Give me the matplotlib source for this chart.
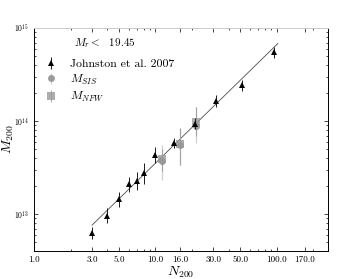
import matplotlib
matplotlib.use("Agg")
import matplotlib.pyplot as plt
from matplotlib.ticker import FixedLocator, FixedFormatter, LogLocator, NullFormatter

plt.rcParams['font.family'] = 'serif'
plt.rcParams['font.serif'] = ['cmr10']
plt.rcParams['mathtext.fontset'] = 'cm'
plt.rcParams['axes.formatter.use_mathtext'] = True

# Johnston et al. 2007
johnston_n = [3, 4, 5, 6, 7, 8, 9.9, 14.1, 21.1, 31.7, 51.7, 94.5]
johnston_m = [6.2e12, 9.5e12, 1.44e13, 2.1e13, 2.28e13, 2.74e13, 4.3e13, 5.85e13,
              9.4e13, 1.65e14, 2.44e14, 5.56e14]
johnston_lo = [5.35e12, 8.0e12, 1.19e13, 1.72e13, 1.81e13, 2.1e13, 3.53e13, 5.1e13,
               8.2e13, 1.43e14, 2.12e14, 4.72e14]
johnston_hi = [7.3e12, 1.16e13, 1.72e13, 2.5e13, 2.85e13, 3.53e13, 5.3e13, 6.6e13,
               1.07e14, 1.9e14, 2.76e14, 6.3e14]

# this work
bin_n = [11.4, 15.8, 21.4]
sis_m = [3.7e13, 5.5e13, 8.8e13]
sis_lo = [2.3e13, 3.4e13, 5.8e13]
sis_hi = [5.5e13, 8.4e13, 1.42e14]
nfw_m = [3.9e13, 5.7e13, 9.8e13]
nfw_lo = [2.9e13, 3.4e13, 7.0e13]
nfw_hi = [5.0e13, 8.4e13, 1.42e14]

# fit line endpoints
fit_n = [3.0, 102.0]
fit_m = [7.6e12, 6.85e14]

xticks = [1.0, 3.0, 5.0, 10.0, 16.0, 30.0, 50.0, 100.0, 170.0]


def yerr(m, lo, hi):
    return [[a - b for a, b in zip(m, lo)], [b - a for a, b in zip(m, hi)]]


fig = plt.figure(figsize=(3.41, 2.79), dpi=100)
ax = fig.add_axes([0.1, 0.1, 0.862, 0.799])

ax.plot(fit_n, fit_m, '-', color='0.3', lw=0.6, zorder=2)

ax.errorbar(bin_n, sis_m, yerr=yerr(sis_m, sis_lo, sis_hi), fmt='o', color='0.55',
            ecolor='0.78', elinewidth=0.9, capsize=1.2, ms=5, mew=0, alpha=0.85,
            label=r'$M_{SIS}$', zorder=3)
ax.errorbar(bin_n, nfw_m, yerr=yerr(nfw_m, nfw_lo, nfw_hi), fmt='s', color='0.6',
            ecolor='0.6', elinewidth=0.8, capsize=1.2, ms=5.5, mew=0, alpha=0.8,
            label=r'$M_{NFW}$', zorder=3)
ax.errorbar(johnston_n, johnston_m, yerr=yerr(johnston_m, johnston_lo, johnston_hi),
            fmt='^', color='black', ecolor='0.1', elinewidth=0.7, capsize=1.5,
            ms=5, mew=0, label='Johnston et al. 2007', zorder=4)

ax.set_xscale('log')
ax.set_yscale('log')
ax.set_xlim(1.0, 264)
ax.set_ylim(4.0e12, 1e15)

ax.xaxis.set_major_locator(FixedLocator(xticks))
ax.xaxis.set_major_formatter(FixedFormatter(['%.1f' % t for t in xticks]))
ax.xaxis.set_minor_locator(LogLocator(base=10, subs=range(2, 10)))
ax.xaxis.set_minor_formatter(NullFormatter())

ax.tick_params(which='both', direction='in', top=True, right=True, width=0.5)
ax.tick_params(which='major', length=3)
ax.tick_params(which='minor', length=1.5)
ax.tick_params(axis='x', labelsize=6.5, pad=3)
ax.tick_params(axis='y', labelsize=5.5)

for s in ax.spines.values():
    s.set_linewidth(0.7)
ax.spines['top'].set_color('0.8')

ax.set_xlabel(r'$N_{200}$', fontsize=10, labelpad=1)
ax.set_ylabel(r'$M_{200}$', fontsize=10)
ax.yaxis.set_label_coords(-0.062, 0.5)

ax.text(0.136, 0.933, r'$M_r <$  19.45', transform=ax.transAxes, fontsize=8,
        va='center', ha='left')

handles, labels = ax.get_legend_handles_labels()
order = [2, 0, 1]
leg = ax.legend([handles[i] for i in order], [labels[i] for i in order],
                loc='upper left', bbox_to_anchor=(0.0, 0.905), frameon=False,
                fontsize=8.5, handlelength=1.2, handletextpad=1.0,
                labelspacing=0.3, borderaxespad=0.4, numpoints=1)

fig.savefig('out.png', dpi=100)
